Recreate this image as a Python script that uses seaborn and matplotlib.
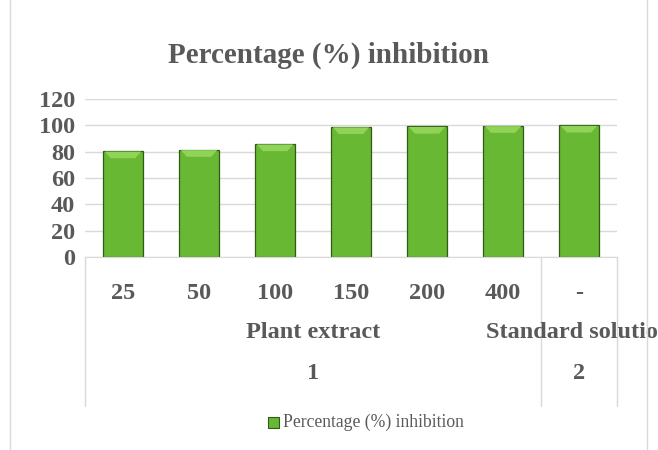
import matplotlib
matplotlib.use("Agg")
import matplotlib.pyplot as plt
import matplotlib.transforms as mtrans
from matplotlib.lines import Line2D
from matplotlib.patches import Rectangle, Polygon
import seaborn as sns
import pandas as pd

# data
concentrations = ["25", "50", "100", "150", "200", "400", "-"]
inhibition = [80.5, 81.6, 85.9, 98.9, 99.2, 99.8, 100.0]
sample_type = ["Plant extract"] * 6 + ["Standard solution"]
sample_no = ["1"] * 6 + ["2"]
title = "Percentage (%) inhibition"

df = pd.DataFrame({"conc": concentrations, "val": inhibition})

sns.set_style("white")
plt.rcParams["font.family"] = ["Liberation Serif", "DejaVu Serif"]
grey = "#595959"
green = "#68b834"

fig = plt.figure(figsize=(6.58, 4.5), dpi=100)
ax = fig.add_axes([85 / 658, 1 - 257 / 450, (617 - 85) / 658, (257 - 99) / 450])

sns.barplot(data=df, x="conc", y="val", order=concentrations, color=green,
            saturation=1, width=0.52, edgecolor="#2f5c15", linewidth=0.9, ax=ax)
for p in ax.patches:
    # lighter bevel on top of each bar
    x, w, h = p.get_x(), p.get_width(), p.get_height()
    ax.add_patch(Polygon([(x + 0.02, h - 0.4), (x + w - 0.02, h - 0.4),
                          (x + w - 0.1, h - 5.5), (x + 0.1, h - 5.5)],
                         closed=True, color="#8fd357", lw=0, zorder=3))

ax.set_ylim(0, 120)
ax.set_yticks(range(0, 121, 20))
ax.set_xlim(-0.5, len(concentrations) - 0.5)
ax.yaxis.grid(True, color="#d9d9d9", lw=1)
ax.set_axisbelow(True)
for s in ["top", "right", "left"]:
    ax.spines[s].set_visible(False)
ax.spines["bottom"].set_color("#d9d9d9")
ax.tick_params(axis="y", length=0, pad=7, labelsize=17.5, labelcolor=grey)
ax.tick_params(axis="x", length=0, pad=19, labelsize=17.5, labelcolor=grey)
for lbl in ax.get_xticklabels() + ax.get_yticklabels():
    lbl.set_fontweight("bold")
ax.set_xlabel("")
ax.set_ylabel("")

# multi-level category axis
tr = mtrans.blended_transform_factory(ax.transData, ax.transAxes)
bounds = [-0.5]
for i in range(1, len(sample_type)):
    if sample_type[i] != sample_type[i - 1]:
        bounds.append(i - 0.5)
bounds.append(len(sample_type) - 0.5)
for b in bounds:
    ax.add_line(Line2D([b, b], [0, -0.94], transform=tr, color="#d9d9d9",
                       lw=1, clip_on=False))
for a, b in zip(bounds[:-1], bounds[1:]):
    i = int(a + 0.5)
    c = (a + b) / 2
    ax.text(c, -0.475, sample_type[i], transform=tr, ha="center", va="center",
            fontsize=17.5, fontweight="bold", color=grey, clip_on=False)
    ax.text(c, -0.735, sample_no[i], transform=tr, ha="center", va="center",
            fontsize=17.5, fontweight="bold", color=grey, clip_on=False)

fig.text(328 / 658, 1 - 55 / 450, title, ha="center", va="center",
         fontsize=21, fontweight="bold", color=grey)

# legend
fig.patches.append(Rectangle((268 / 658, 1 - 428 / 450), 11 / 658, 11 / 450,
                             transform=fig.transFigure, facecolor=green,
                             edgecolor="#2f5c15", lw=0.8))
fig.text(283 / 658, 1 - 422 / 450, title, ha="left", va="center",
         fontsize=12.7, color=grey)

# chart border
for xb in [10, 647]:
    fig.add_artist(Line2D([xb / 658, xb / 658], [0, 1], transform=fig.transFigure,
                          color="#d9d9d9", lw=1))

fig.savefig("out.png", dpi=100)
